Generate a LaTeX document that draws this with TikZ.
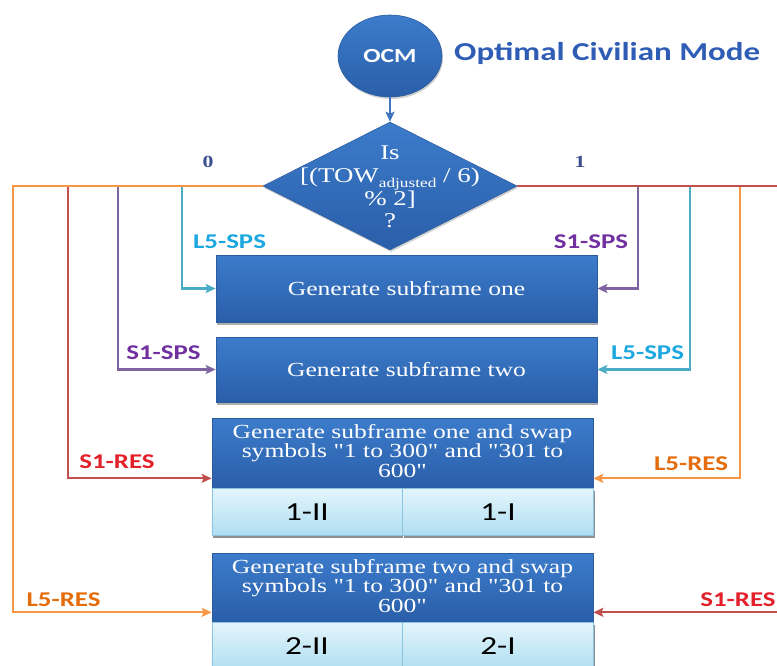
\documentclass[tikz,border=0pt]{standalone}
\usepackage{fontspec}
\setmainfont{Liberation Serif}
\newfontfamily\lblfont{Carlito}
\usetikzlibrary{arrows.meta,shapes.geometric,shadows,calc}

\definecolor{boxtop}{HTML}{3C7CCB}
\definecolor{boxbot}{HTML}{2A5EA9}
\definecolor{boxedge}{HTML}{2B5C9F}
\definecolor{celltop}{HTML}{E2F5FC}
\definecolor{cellbot}{HTML}{B0DEF1}
\definecolor{celledge}{HTML}{8CC3DE}
\definecolor{lineorange}{HTML}{F79646}
\definecolor{linered}{HTML}{C0504D}
\definecolor{linepurple}{HTML}{8064A2}
\definecolor{lineteal}{HTML}{4BACC6}
\definecolor{txtorange}{HTML}{E46C0A}
\definecolor{txtred}{HTML}{E3202A}
\definecolor{txtpurple}{HTML}{7030A0}
\definecolor{txtteal}{HTML}{1BA7DF}
\definecolor{titleblue}{HTML}{2F5DB6}
\definecolor{branchlbl}{HTML}{3D4E8E}
\definecolor{flowblue}{HTML}{3E75BC}

% all lettering in this chart is set a little wide
\newcommand{\stretchx}[1]{\scalebox{1.28}[1]{#1}}
\newcommand{\dq}{\textquotedbl{}}

\tikzset{
  procbox/.style={draw=boxedge, line width=0.7pt, top color=boxtop, bottom color=boxbot,
    inner sep=0pt, text=white, font=\fontsize{20}{20}\selectfont,
    drop shadow={shadow xshift=1pt, shadow yshift=-2.5pt, opacity=0.45, fill=black!70}},
  cellbox/.style={draw=celledge, line width=0.6pt, top color=celltop, bottom color=cellbot,
    inner sep=0pt, text=black, font=\lblfont\fontsize{26}{26}\selectfont,
    drop shadow={shadow xshift=1pt, shadow yshift=-2.5pt, opacity=0.55, fill=black!80}},
  lbl/.style={font=\lblfont\bfseries\fontsize{21}{21}\selectfont, inner sep=0pt},
  branch/.style={text=branchlbl, inner sep=0pt, font=\bfseries\fontsize{17}{17}\selectfont},
  conn/.style={line width=2.2pt, -{Stealth[length=10pt,width=9pt,inset=2pt]}},
  orangeline/.style={conn, draw=lineorange},
  redline/.style={conn, draw=linered},
  purpleline/.style={conn, draw=linepurple},
  tealline/.style={conn, draw=lineteal},
}

\begin{document}
\begin{tikzpicture}[x=1pt,y=-1pt]
\clip (0,0) rectangle (777,666);
\fill[white] (0,0) rectangle (777,666);

% start terminal and title
\node[ellipse, minimum width=104pt, minimum height=82pt, inner sep=0pt,
      top color=boxtop, bottom color=boxbot, draw=boxedge, line width=0.6pt,
      text=white, font=\lblfont\bfseries\fontsize{20}{20}\selectfont,
      drop shadow={shadow xshift=1pt, shadow yshift=-2pt, opacity=0.3, fill=black!60}]
      (ocm) at (390,56) {\stretchx{OCM}};
\node[anchor=west, inner sep=0pt, text=titleblue, font=\lblfont\bfseries\fontsize{25.8}{26}\selectfont]
      (title) at (454,53) {\stretchx{Optimal Civilian Mode}};

% decision
\node[diamond, minimum width=254pt, minimum height=128pt, inner sep=0pt,
      top color=boxtop, bottom color=boxbot, draw=boxedge, line width=0.6pt,
      drop shadow={shadow xshift=1pt, shadow yshift=-2pt, opacity=0.3, fill=black!60}]
      (dec) at (390,186) {};
\node[text=white, align=center, inner sep=0pt, font=\fontsize{21}{22.4}\selectfont]
      (dectxt) at (390,187) {\stretchx{\parbox{160pt}{\centering
        Is\\\relax
        {[}(TOW\raisebox{-5pt}{\fontsize{13.5}{14}\selectfont adjusted} / 6)\\\relax
        \% 2]\\\relax
        ?}}};
\draw[flowblue, line width=2pt, -{Stealth[length=10pt,width=9pt,inset=2pt]}] (ocm) -- (dec);

% branch labels
\node[branch] (lzero) at (208,162) {\stretchx{0}};
\node[branch] (lone) at (580,162) {\stretchx{1}};

% process boxes
\node[procbox, minimum width=381pt, minimum height=67pt] (box1) at (406.5,288.5) {\stretchx{Generate subframe one}};
\node[procbox, minimum width=381pt, minimum height=65pt] (box2) at (406.5,369.5) {\stretchx{Generate subframe two}};

\node[procbox, minimum width=381pt, minimum height=70pt] (box3) at (402.5,453) {};
\node[text=white, inner sep=0pt] (box3txt) at (402.5,451) {\stretchx{\parbox{272pt}{\centering\fontsize{20}{19.6}\selectfont
   Generate subframe one and swap\\ symbols \dq1 to 300\dq{} and \dq301 to\\ 600\dq}}};
\node[cellbox, anchor=north west, minimum width=190pt, minimum height=47pt] (c1a) at (box3.south west) {\stretchx{1-II}};
\node[cellbox, anchor=north west, minimum width=191pt, minimum height=47pt] (c1b) at (c1a.north east) {\stretchx{1-I}};

\node[procbox, minimum width=381pt, minimum height=69pt] (box4) at (402.5,587.5) {};
\node[text=white, inner sep=0pt] (box4txt) at (402.5,586) {\stretchx{\parbox{272pt}{\centering\fontsize{20}{19.6}\selectfont
   Generate subframe two and swap\\ symbols \dq1 to 300\dq{} and \dq301 to\\ 600\dq}}};
\node[cellbox, anchor=north west, minimum width=190pt, minimum height=47pt] (c2a) at (box4.south west) {\stretchx{2-II}};
\node[cellbox, anchor=north west, minimum width=191pt, minimum height=47pt] (c2b) at (c2a.north east) {\stretchx{2-I}};

% bends of the connectors
\coordinate (lOr) at (13,186);
\coordinate (lRd) at (68,186);
\coordinate (lPu) at (118,186);
\coordinate (lTe) at (182,186);
\coordinate (rPu) at (638,186);
\coordinate (rTe) at (690,186);
\coordinate (rOr) at (740,186);
\coordinate (rRd) at (790,186);

% right-hand branch (1)
\draw[purpleline] (dec.east) -- (rPu) |- (box1.east);
\draw[tealline] (dec.east) -- (rTe) |- (box2.east);
\draw[orangeline] (dec.east) -- (rOr) |- ($(box3.south east)+(0,-10)$);
\draw[redline] (dec.east) -- (rRd) |- ($(box4.south east)+(0,-10)$);

% left-hand branch (0)
\draw[tealline] (dec.west) -- (lTe) |- (box1.west);
\draw[purpleline] (dec.west) -- (lPu) |- (box2.west);
\draw[redline] (dec.west) -- (lRd) |- ($(box3.south west)+(0,-10)$);
\draw[orangeline] (dec.west) -- (lOr) |- ($(box4.south west)+(0,-10)$);

% connector labels
\node[lbl, text=txtteal] (t1) at (229.5,242) {\stretchx{L5-SPS}};
\node[lbl, text=txtpurple] (t2) at (591,242) {\stretchx{S1-SPS}};
\node[lbl, text=txtpurple] (t3) at (163.5,353) {\stretchx{S1-SPS}};
\node[lbl, text=txtteal] (t4) at (647.5,353) {\stretchx{L5-SPS}};
\node[lbl, text=txtred] (t5) at (117,462) {\stretchx{S1-RES}};
\node[lbl, text=txtorange] (t6) at (691,464) {\stretchx{L5-RES}};
\node[lbl, text=txtorange] (t7) at (63.5,600) {\stretchx{L5-RES}};
\node[lbl, text=txtred] (t8) at (738,600) {\stretchx{S1-RES}};
\end{tikzpicture}
\end{document}
